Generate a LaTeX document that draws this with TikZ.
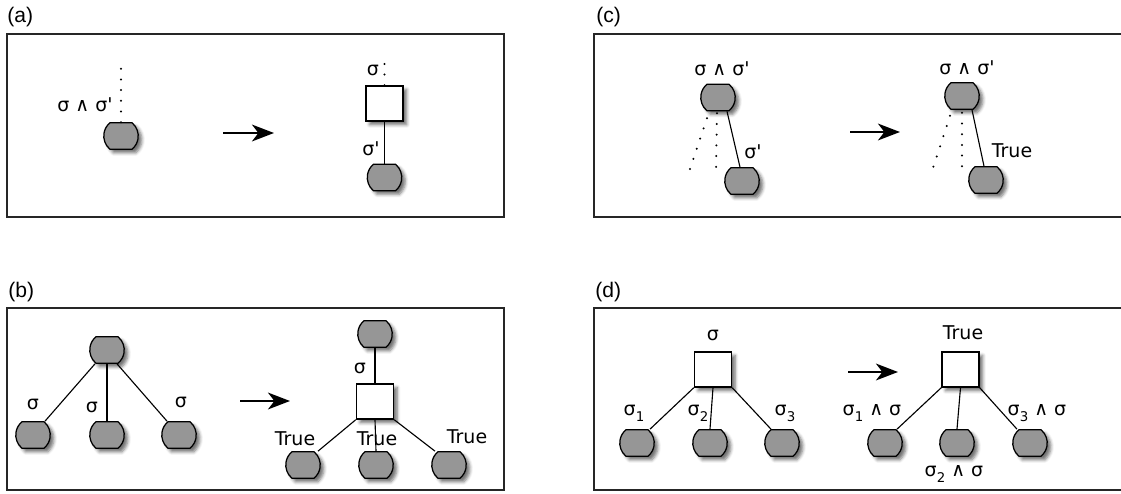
\documentclass[tikz,border=0pt]{standalone}
\usepackage{fontspec}
\setmainfont{Liberation Sans}
\newfontfamily\lblfont{DejaVu Sans}[Ligatures=TeXOff]
\usetikzlibrary{arrows.meta,shapes.misc,shadows.blur}
\definecolor{nodegray}{RGB}{150,150,150}
\newcommand{\lowsub}[1]{\raisebox{-4.5pt}{\fontsize{9.5}{9.5}\selectfont #1}}
\tikzset{
  softshadow/.style={blur shadow={shadow xshift=2.6pt, shadow yshift=-2.6pt,
      shadow blur radius=2.2pt, shadow opacity=55}},
  leaf/.style={rounded rectangle, rounded rectangle arc length=100, draw,
      line width=0.9pt, fill=nodegray, minimum width=0.75cm,
      minimum height=0.66cm, inner sep=0pt, softshadow},
  joinbox/.style={rectangle, draw, line width=0.9pt, fill=white,
      minimum width=0.93cm, minimum height=0.88cm, inner sep=0pt, softshadow},
}
\begin{document}
\begin{tikzpicture}[x=0.025cm, y=-0.025cm,
    every node/.style={font=\lblfont\fontsize{13.5}{15}\selectfont},
    panel/.style={draw=black!85, line width=0.9pt},
    tag/.style={font=\fontsize{15}{17}\selectfont, anchor=base west, inner sep=0pt},
    lbl/.style={anchor=base, inner sep=0pt},
    link/.style={line width=0.8pt},
    dotlink/.style={line width=1.6pt, line cap=round, dash pattern=on 0pt off 7.6pt},
    rewrite/.style={-{Stealth[length=0.55cm, width=0.42cm, inset=0.16cm]}, line width=1.5pt}]
  \useasboundingbox (0,0) rectangle (1121,494);

  % frames
  \draw[panel] (7,34) rectangle (504,217);
  \draw[panel] (594,34) rectangle (1130,217);
  \draw[panel] (7,308) rectangle (504,490);
  \draw[panel] (594,308) rectangle (1130,490);
  \node[tag] (tag-a) at (7,22.5) {(a)};
  \node[tag] (tag-c) at (596,22.5) {(c)};
  \node[tag] (tag-b) at (8,297.5) {(b)};
  \node[tag] (tag-d) at (595,297.5) {(d)};

  % (a)
  \node[leaf] (a-n) at (121,136) {};
  \coordinate (a-top) at (121,67);
  \draw[dotlink] (a-n.north) -- (a-top);
  \node[lbl] (a-lab) at (85,111) {σ ∧ σ'};
  \coordinate (a-from) at (223,133);
  \coordinate (a-to) at (274,133);
  \draw[rewrite] (a-from) -- (a-to);
  \node[joinbox] (a-sq) at (384.5,103.5) {};
  \node[leaf] (a-m) at (384.5,177.5) {};
  \coordinate (a-up) at (384.5,60);
  \draw[dotlink] (a-sq.north) -- (a-up);
  \draw[link] (a-sq) -- (a-m);
  \node[lbl] (a-s) at (373,75) {σ};
  \node[lbl] (a-sp) at (371,155) {σ'};

  % (c)
  \node[leaf] (c-t) at (718,97.5) {};
  \node[leaf] (c-b) at (742,181) {};
  \coordinate (c-d1) at (690,169);
  \coordinate (c-d2) at (716,173);
  \draw[dotlink] ([shift={(-11,7)}]c-t.south) -- (c-d1);
  \draw[dotlink] ([shift={(-1,2)}]c-t.south) -- (c-d2);
  \draw[link] ([shift={(9,0)}]c-t.south) -- ([shift={(-2,0)}]c-b.north);
  \node[lbl] (c-lab) at (722,75) {σ ∧ σ'};
  \node[lbl] (c-sp) at (753,158) {σ'};
  \coordinate (c-from) at (850,132);
  \coordinate (c-to) at (900,132);
  \draw[rewrite] (c-from) -- (c-to);
  \node[leaf] (c-rt) at (962,96) {};
  \node[leaf] (c-rb) at (986,180) {};
  \coordinate (c-e1) at (933,168);
  \coordinate (c-e2) at (962,173);
  \draw[dotlink] ([shift={(-12,6)}]c-rt.south) -- (c-e1);
  \draw[dotlink] ([shift={(0,3)}]c-rt.south) -- (c-e2);
  \draw[link] ([shift={(10,0)}]c-rt.south) -- ([shift={(-2,0)}]c-rb.north);
  \node[lbl] (c-rlab) at (967,74) {σ ∧ σ'};
  \node[lbl] (c-true) at (1012,157) {True};

  % (b)
  \node[leaf] (b-0) at (107,350) {};
  \node[leaf] (b-1) at (33,435) {};
  \node[leaf] (b-2) at (107,435) {};
  \node[leaf] (b-3) at (179,435) {};
  \draw[link] ([shift={(-12,0)}]b-0.south) -- ([shift={(12,0)}]b-1.north);
  \draw[link] (b-0) -- (b-2);
  \draw[link] ([shift={(10,0)}]b-0.south) -- ([shift={(-12,0)}]b-3.north);
  \node[lbl] (b-s1) at (33,409) {σ};
  \node[lbl] (b-s2) at (92,412) {σ};
  \node[lbl] (b-s3) at (181,407) {σ};
  \coordinate (b-from) at (240,401);
  \coordinate (b-to) at (290,401);
  \draw[rewrite] (b-from) -- (b-to);
  \node[leaf] (b-r0) at (375,334) {};
  \node[joinbox] (b-sq) at (375,401.5) {};
  \node[leaf] (b-r1) at (303,465) {};
  \node[leaf] (b-r2) at (376,465) {};
  \node[leaf] (b-r3) at (449,465) {};
  \draw[link] (b-r0) -- (b-sq);
  \draw[link] (b-sq.south west) -- ([shift={(15,0)}]b-r1.north);
  \draw[link] (b-sq.south) -- (b-r2.north);
  \draw[link] (b-sq.south east) -- ([shift={(-14,0)}]b-r3.north);
  \node[lbl] (b-s) at (360,373) {σ};
  \node[lbl] (b-t1) at (295,445) {True};
  \node[lbl] (b-t2) at (377,445) {True};
  \node[lbl] (b-t3) at (467,443) {True};

  % (d)
  \node[joinbox] (d-sq) at (713,369.5) {};
  \node[leaf] (d-1) at (637,443) {};
  \node[leaf] (d-2) at (710,443) {};
  \node[leaf] (d-3) at (782,443) {};
  \draw[link] (d-sq.south west) -- ([shift={(13,0)}]d-1.north);
  \draw[link] (d-sq.south) -- (d-2.north);
  \draw[link] (d-sq.south east) -- ([shift={(-11,0)}]d-3.north);
  \node[lbl] (d-s) at (713,340) {σ};
  \node[lbl] (d-s1) at (634,415) {σ\lowsub{1}};
  \node[lbl] (d-s2) at (698,415) {σ\lowsub{2}};
  \node[lbl] (d-s3) at (785,415) {σ\lowsub{3}};
  \coordinate (d-from) at (848,372);
  \coordinate (d-to) at (898,372);
  \draw[rewrite] (d-from) -- (d-to);
  \node[joinbox] (d-rsq) at (960.5,369.5) {};
  \node[leaf] (d-r1) at (885,443) {};
  \node[leaf] (d-r2) at (957,443) {};
  \node[leaf] (d-r3) at (1030,443) {};
  \draw[link] (d-rsq.south west) -- ([shift={(12,0)}]d-r1.north);
  \draw[link] (d-rsq.south) -- (d-r2.north);
  \draw[link] (d-rsq.south east) -- ([shift={(-13,0)}]d-r3.north);
  \node[lbl] (d-true) at (963,339) {True};
  \node[lbl] (d-a1) at (872,415) {σ\lowsub{1} ∧ σ};
  \node[lbl] (d-a2) at (954,476) {σ\lowsub{2} ∧ σ};
  \node[lbl] (d-a3) at (1037,415) {σ\lowsub{3} ∧ σ};
\end{tikzpicture}
\end{document}
